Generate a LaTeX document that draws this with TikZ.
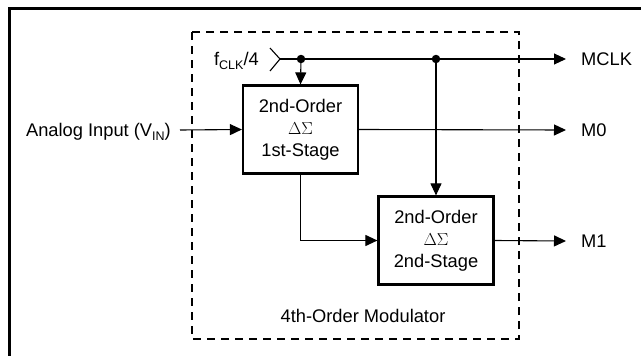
\documentclass[tikz,border=0pt]{standalone}
\usepackage{fontspec}
\setmainfont{Liberation Sans}
\usetikzlibrary{arrows.meta}
\newcommand{\lowsub}[1]{\raisebox{-4pt}{\fontsize{12.5}{13}\selectfont #1}}
\begin{document}
\begin{tikzpicture}[x=1pt,y=-1pt,
  lbl/.style={font=\fontsize{18.3}{20}\selectfont, inner sep=0pt},
  blk/.style={draw, line width=2.2pt, minimum width=115pt, minimum height=88pt, align=center,
              font=\fontsize{18.3}{22}\selectfont, inner sep=0pt},
  wire/.style={line width=1.1pt},
  arr/.style={wire, -{Triangle[length=12pt,width=11pt]}},
  dotn/.style={circle, fill, inner sep=0pt, minimum size=8.5pt}]
\useasboundingbox (0,0) rectangle (641,356);
% outer frame (top and left only)
\draw[line width=3pt] (9.5,356) -- (9.5,8.5) -- (641,8.5);
% dashed modulator boundary
\draw[line width=2.2pt, dash pattern=on 8pt off 6pt] (192,32) rectangle (519,339);
% blocks
\node[blk] (b1) at (300.5,129.5) {2nd-Order\\$\Delta\Sigma$\\1st-Stage};
\node[blk] (b2) at (436,240.5) {2nd-Order\\$\Delta\Sigma$\\2nd-Stage};
% labels
\node[lbl, anchor=base east] (fclk) at (259,65) {f\lowsub{CLK}/4};
\node[lbl, anchor=base east] (ain) at (171,136) {Analog Input (V\lowsub{IN})};
\node[lbl, anchor=west] (mclk) at (581,59) {MCLK};
\node[lbl, anchor=west] (m0) at (581,130) {M0};
\node[lbl, anchor=west] (m1) at (581,241) {M1};
\node[lbl] (mod) at (363,316) {4th-Order Modulator};
% clock input chevron
\coordinate (clk) at (280,59);
\draw[wire] (270,48) -- (clk) -- (270,71);
\node[dotn] (d1) at (301,59) {};
\node[dotn] (d2) at (436,59) {};
\coordinate (ainstart) at (180,130);
% connectors
\draw[arr] (clk) -- (d1.center) -- (d2.center) -- ([xshift=-15pt]mclk.west);
\draw[arr] (d1.center) -- (b1.north);
\draw[arr] (d2.center) -- (b2.north);
\draw[arr] (ainstart) -- (b1.west);
\draw[arr] (b1.east) -- ([xshift=-15pt]m0.west);
\draw[arr] (b1.south) |- (b2.west);
\draw[arr] (b2.east) -- ([xshift=-15pt]m1.west);
\end{tikzpicture}
\end{document}
